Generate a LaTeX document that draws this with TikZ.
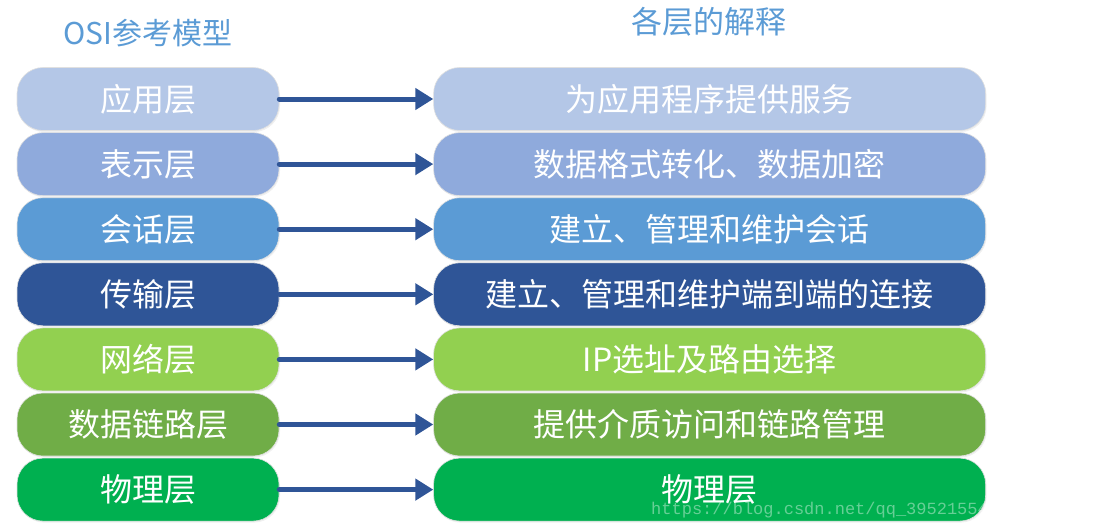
\documentclass[tikz,border=0pt]{standalone}
\usepackage{fontspec}
\setmainfont{Noto Sans CJK SC}
\setmonofont{Liberation Mono}
\usepackage{tikz}
\usetikzlibrary{positioning,arrows.meta,shadows}
\definecolor{bleupale}{RGB}{180, 199, 231}
\definecolor{bleuclair}{RGB}{143, 170, 220}
\definecolor{bleumoyen}{RGB}{91, 155, 213}
\definecolor{bleufonce}{RGB}{47, 85, 151}
\definecolor{vertclair}{RGB}{146, 208, 80}
\definecolor{vertolive}{RGB}{112, 173, 71}
\definecolor{vertvif}{RGB}{0, 176, 80}

\begin{document}
\begin{tikzpicture}[x=1pt, y=-1pt,
  couche/.style={rounded corners=26pt, draw=black!12, line width=0.6pt,
        text=white, font=\fontsize{32}{32}\selectfont,
        minimum height=63pt, inner sep=0pt,
        drop shadow={opacity=0.12, shadow xshift=1pt, shadow yshift=-1.5pt}},
  gauche/.style={couche, minimum width=262pt},
  droite/.style={couche, minimum width=552pt},
  fleche/.style={draw=bleufonce, line width=5pt, line cap=round,
        -{Triangle[length=18pt, width=21pt]}},
  titre/.style={text=bleumoyen}]
  \useasboundingbox (0,0) rectangle (1105,525);

  % titres
  \node[titre, font=\fontsize{30}{30}\selectfont] (titremodele) at (148,33) {OSI参考模型};
  \node[titre, font=\fontsize{31}{31}\selectfont] (titreexpl) at (709,22) {各层的解释};

  % couches du modele
  \node[gauche, fill=bleupale] (app) at (148,99) {应用层};
  \node[gauche, fill=bleuclair, below=1.5pt of app] (pres) {表示层};
  \node[gauche, fill=bleumoyen, below=1.5pt of pres] (sess) {会话层};
  \node[gauche, fill=bleufonce, below=1.5pt of sess] (trans) {传输层};
  \node[gauche, fill=vertclair, below=1.5pt of trans] (res) {网络层};
  \node[gauche, fill=vertolive, below=1.5pt of res] (liai) {数据链路层};
  \node[gauche, fill=vertvif, below=1.5pt of liai] (phys) {物理层};

  % explications
  \node[droite, fill=bleupale, right=154pt of app] (appx) {为应用程序提供服务};
  \node[droite, fill=bleuclair, right=154pt of pres] (presx) {数据格式转化、数据加密};
  \node[droite, fill=bleumoyen, right=154pt of sess] (sessx) {建立、管理和维护会话};
  \node[droite, fill=bleufonce, right=154pt of trans] (transx) {建立、管理和维护端到端的连接};
  \node[droite, fill=vertclair, right=154pt of res] (resx) {IP选址及路由选择};
  \node[droite, fill=vertolive, right=154pt of liai] (liaix) {提供介质访问和链路管理};
  \node[droite, fill=vertvif, right=154pt of phys] (physx) {物理层};

  \draw[fleche] (app) -- (appx);
  \draw[fleche] (pres) -- (presx);
  \draw[fleche] (sess) -- (sessx);
  \draw[fleche] (trans) -- (transx);
  \draw[fleche] (res) -- (resx);
  \draw[fleche] (liai) -- (liaix);
  \draw[fleche] (phys) -- (physx);

  \node[anchor=west, text=white, text opacity=0.4, inner sep=0pt,
        font=\ttfamily\fontsize{17}{17}\selectfont] (filigrane) at (651,510)
        {https://blog.csdn.net/qq\_39521554};
\end{tikzpicture}
\end{document}
